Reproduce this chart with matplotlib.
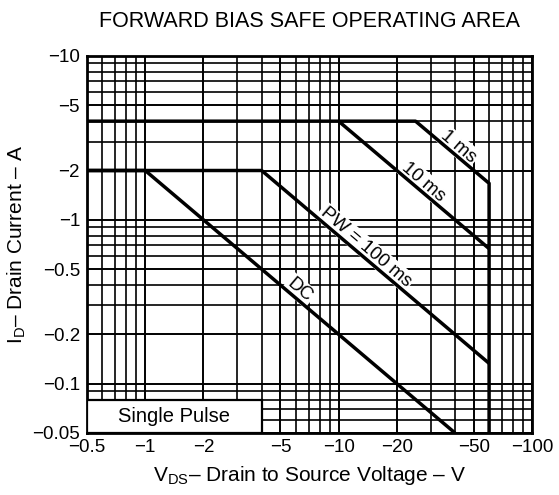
import numpy as np
import matplotlib
matplotlib.use('Agg')
import matplotlib.pyplot as plt
from matplotlib.ticker import LogLocator, NullFormatter, FixedLocator, FixedFormatter
from matplotlib.patches import Rectangle

plt.rcParams['font.family'] = ['Liberation Sans', 'DejaVu Sans']
plt.rcParams['mathtext.fontset'] = 'custom'
plt.rcParams['mathtext.rm'] = 'Liberation Sans'

# axis ticks (shown with a minus sign, p-channel part)
vds_ticks = [0.5, 1, 2, 5, 10, 20, 50, 100]
id_ticks = [0.05, 0.1, 0.2, 0.5, 1, 2, 5, 10]

# SOA boundaries, corner points (|V|, |A|)
dc_v = [0.5, 1, 40]
dc_i = [2, 2, 0.05]
pw100_v = [0.5, 4, 60]
pw100_i = [2, 2, 0.133]
ms10_v = [0.5, 10, 60]
ms10_i = [4, 4, 0.667]
ms1_v = [10, 25, 60, 60]
ms1_i = [4, 4, 1.67, 0.05]

# label anchors on the lines
labels = ['DC', 'PW = 100 ms', '10 ms', '1 ms']
label_v = [5.9, 12.9, 25.8, 39.0]
label_i = [0.34, 0.62, 1.55, 2.56]

fig = plt.figure(figsize=(5.59, 4.95), dpi=100)
ax = fig.add_axes([0.1556, 0.1253, 0.7961, 0.7616])

ax.set_xscale('log')
ax.set_yscale('log')
ax.set_xlim(0.5, 100)
ax.set_ylim(0.05, 10)

ax.xaxis.set_major_locator(FixedLocator(vds_ticks))
ax.xaxis.set_major_formatter(FixedFormatter(['\u2212%g' % v for v in vds_ticks]))
ax.yaxis.set_major_locator(FixedLocator(id_ticks))
ax.yaxis.set_major_formatter(FixedFormatter(['\u2212%g' % v for v in id_ticks]))
ax.xaxis.set_minor_locator(LogLocator(base=10, subs=np.arange(1, 10), numticks=20))
ax.yaxis.set_minor_locator(LogLocator(base=10, subs=np.arange(1, 10), numticks=20))
ax.xaxis.set_minor_formatter(NullFormatter())
ax.yaxis.set_minor_formatter(NullFormatter())
ax.tick_params(which='both', length=0, labelsize=13.5, colors='black')
ax.tick_params(axis='x', pad=4)
ax.tick_params(axis='y', pad=5)

ax.grid(which='major', color='black', lw=1.4, zorder=1)
ax.grid(which='minor', color='black', lw=1.2, zorder=1)
ax.set_axisbelow(True)
for s in ax.spines.values():
    s.set_linewidth(2.0)

lw = 2.5
for v, i in [(dc_v, dc_i), (pw100_v, pw100_i), (ms10_v, ms10_i), (ms1_v, ms1_i)]:
    ax.plot(v, i, color='black', lw=lw, solid_capstyle='butt', zorder=4)

for txt, v, i in zip(labels, label_v, label_i):
    ax.text(v, i, txt, rotation=-40.4, rotation_mode='anchor', ha='center', va='bottom',
            fontsize=13.5, zorder=3,
            bbox=dict(facecolor='white', edgecolor='none', pad=1.5))

ax.add_patch(Rectangle((0.5, 0.05), 3.5, 0.03, facecolor='white', edgecolor='black',
                       lw=1.6, zorder=5))
ax.text(np.sqrt(0.5 * 4), np.sqrt(0.05 * 0.08), 'Single Pulse', ha='center', va='center',
        fontsize=14.5, zorder=6)

ax.set_title('FORWARD BIAS SAFE OPERATING AREA', fontsize=15.5, pad=21)
ax.set_xlabel(r'V$_\mathregular{DS}$' + '\u2013 Drain to Source Voltage \u2013 V', fontsize=15, labelpad=6)
ax.set_ylabel(r'I$_\mathregular{D}$' + '\u2013 Drain Current \u2013 A', fontsize=15, labelpad=3)

fig.savefig('out.png', dpi=100)
